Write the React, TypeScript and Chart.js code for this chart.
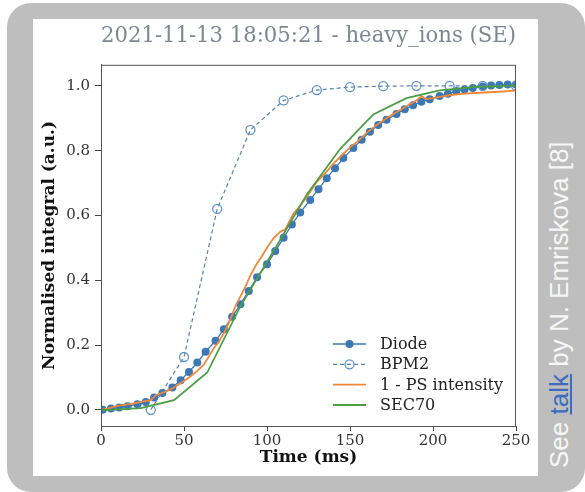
import { useEffect, useRef } from 'react';
import { Chart, registerables } from 'chart.js';

Chart.register(...registerables);

const chartTitle = '2021-11-13 18:05:21 - heavy_ions (SE)';
const xTitle = 'Time (ms)';
const yTitle = 'Normalised integral (a.u.)';

const xTicks = [0, 50, 100, 150, 200, 250];
const yTicks = [0, 0.2, 0.4, 0.6, 0.8, 1.0];

const diodeTimes = [1, 6, 11, 16, 22, 27, 32, 37, 43, 48, 53, 58, 63, 69, 74, 79, 84, 89, 94, 100, 105, 110, 115, 120, 126, 131, 136, 141, 146, 152, 157, 162, 167, 172, 178, 183, 188, 193, 198, 204, 209, 214, 219, 224, 230, 235, 240, 245, 250];
const diodeValues = [0.0, 0.004, 0.007, 0.011, 0.017, 0.024, 0.038, 0.052, 0.069, 0.091, 0.117, 0.146, 0.179, 0.213, 0.249, 0.287, 0.326, 0.367, 0.409, 0.449, 0.49, 0.531, 0.572, 0.609, 0.648, 0.681, 0.715, 0.746, 0.777, 0.808, 0.834, 0.858, 0.879, 0.895, 0.913, 0.928, 0.94, 0.951, 0.959, 0.969, 0.976, 0.984, 0.989, 0.993, 0.998, 1.001, 1.003, 1.004, 1.004];

const bpmTimes = [30, 50, 70, 90, 110, 130, 150, 170, 190, 210, 230, 250];
const bpmValues = [0.0, 0.163, 0.62, 0.864, 0.955, 0.987, 0.996, 0.999, 1.0, 1.0, 1.0, 1.0];

const psTimes = [0, 5, 10, 15, 20, 25, 30, 33, 37, 42, 47, 53, 58, 62, 65, 68, 71, 74, 78, 81, 84, 87, 90, 94, 97, 100, 104, 108, 111, 116, 120, 124, 130, 135, 140, 145, 150, 155, 160, 165, 170, 175, 180, 185, 190, 193, 196, 200, 205, 210, 217, 225, 237, 250];
const psValues = [0.0, 0.005, 0.012, 0.016, 0.02, 0.025, 0.03, 0.045, 0.052, 0.063, 0.079, 0.1, 0.12, 0.14, 0.165, 0.19, 0.21, 0.236, 0.28, 0.32, 0.35, 0.38, 0.415, 0.452, 0.475, 0.5, 0.53, 0.55, 0.557, 0.606, 0.63, 0.658, 0.704, 0.73, 0.76, 0.785, 0.81, 0.83, 0.855, 0.875, 0.893, 0.91, 0.925, 0.94, 0.955, 0.968, 0.959, 0.962, 0.967, 0.971, 0.975, 0.978, 0.981, 0.985];

const secTimes = [-16, 4, 24, 44, 64, 84, 104, 124, 144, 164, 184, 204, 224, 244, 264];
const secValues = [0.0, 0.0, 0.005, 0.03, 0.115, 0.32, 0.49, 0.665, 0.805, 0.912, 0.962, 0.986, 0.996, 1.0, 1.002];

const toPoints = (xs: number[], ys: number[]) => xs.map((x, i) => ({ x, y: ys[i] }));

const SERIF = "'DejaVu Serif', serif";

const framePlugin = {
  id: 'frameAndLegend',
  afterDatasetsDraw(chart: any) {
    const { ctx, chartArea: a } = chart;
    ctx.save();
    ctx.strokeStyle = '#555';
    ctx.lineWidth = 1;
    ctx.setLineDash([]);
    ctx.strokeRect(a.left + 0.5, a.top + 0.5, a.right - a.left - 1, a.bottom - a.top);
    const rows = [-82, -61.7, -41.4, -21];
    chart.data.datasets.forEach((ds: any, i: number) => {
      const y = a.bottom + rows[i];
      const x0 = a.right - 183;
      const x1 = a.right - 150;
      ctx.strokeStyle = ds.borderColor;
      ctx.lineWidth = ds.borderWidth;
      ctx.setLineDash(ds.borderDash || []);
      ctx.beginPath();
      ctx.moveTo(x0, y);
      ctx.lineTo(x1, y);
      ctx.stroke();
      ctx.setLineDash([]);
      if (ds.pointRadius > 0) {
        ctx.beginPath();
        ctx.arc((x0 + x1) / 2, y, ds.pointRadius, 0, Math.PI * 2);
        if (ds.pointBorderWidth > 0) {
          ctx.lineWidth = ds.pointBorderWidth;
          ctx.strokeStyle = ds.pointBorderColor;
          ctx.stroke();
        } else {
          ctx.fillStyle = ds.pointBackgroundColor;
          ctx.fill();
        }
      }
      ctx.fillStyle = '#222';
      ctx.font = `16px ${SERIF}`;
      ctx.textBaseline = 'middle';
      ctx.textAlign = 'left';
      ctx.fillText(ds.label, a.right - 136, y + 1);
    });
    ctx.restore();
  },
};

export default function App() {
  const ref = useRef<HTMLCanvasElement>(null);

  useEffect(() => {
    if (!ref.current) return;
    const tickFont = { family: SERIF, size: 15 };
    const titleFont = { family: SERIF, size: 17, weight: 'bold' as const };
    const chart = new Chart(ref.current, {
      type: 'line',
      data: {
        datasets: [
          {
            label: 'Diode',
            data: toPoints(diodeTimes, diodeValues),
            borderColor: '#3b78b5',
            borderWidth: 1.3,
            pointRadius: 4,
            pointBackgroundColor: '#3b78b5',
            pointBorderColor: '#3b78b5',
            pointBorderWidth: 0,
            order: 4,
          },
          {
            label: 'BPM2',
            data: toPoints(bpmTimes, bpmValues),
            borderColor: '#5a80aa',
            borderWidth: 1.2,
            borderDash: [4, 3],
            pointRadius: 4.5,
            pointBackgroundColor: 'rgba(0,0,0,0)',
            pointBorderColor: '#5d92c9',
            pointBorderWidth: 1.3,
            order: 3,
          },
          {
            label: '1 - PS intensity',
            data: toPoints(psTimes, psValues),
            borderColor: '#ef8838',
            borderWidth: 1.8,
            pointRadius: 0,
            pointBorderWidth: 0,
            order: 2,
          },
          {
            label: 'SEC70',
            data: toPoints(secTimes, secValues),
            borderColor: '#4c9e44',
            borderWidth: 1.8,
            pointRadius: 0,
            pointBorderWidth: 0,
            order: 1,
          },
        ],
      },
      options: {
        animation: false,
        responsive: false,
        devicePixelRatio: 1,
        events: [],
        layout: { padding: { left: 0, right: 22, top: 0, bottom: 0 } },
        plugins: {
          legend: { display: false },
          tooltip: { enabled: false },
          title: {
            display: true,
            text: chartTitle,
            fullSize: false,
            color: '#7f8794',
            font: { family: SERIF, size: 21.5, weight: 'normal' },
            padding: { top: 5, bottom: 15 },
          },
        },
        scales: {
          x: {
            type: 'linear',
            min: 0,
            max: 250,
            afterBuildTicks: (s: any) => {
              s.ticks = xTicks.map((v) => ({ value: v }));
            },
            afterFit: (s: any) => {
              s.height = 50;
            },
            ticks: {
              font: tickFont,
              color: '#333',
              padding: 1,
              maxRotation: 0,
              autoSkip: false,
              callback: (v: any) => String(v),
            },
            grid: { display: true, drawOnChartArea: false, drawTicks: true, tickLength: 5, color: '#444' },
            border: { display: true, color: '#555', width: 1 },
            title: { display: true, text: xTitle, color: '#111', font: titleFont, padding: { top: 0, bottom: 8 } },
          },
          y: {
            type: 'linear',
            min: -0.05,
            max: 1.065,
            afterBuildTicks: (s: any) => {
              s.ticks = yTicks.map((v) => ({ value: v }));
            },
            afterFit: (s: any) => {
              s.width = 68;
            },
            ticks: {
              font: tickFont,
              color: '#333',
              padding: 5,
              autoSkip: false,
              callback: (v: any) => Number(v).toFixed(1),
            },
            grid: { display: true, drawOnChartArea: false, drawTicks: true, tickLength: 6, color: '#444' },
            border: { display: true, color: '#555', width: 1 },
            title: { display: true, text: yTitle, color: '#111', font: titleFont, padding: { top: 6, bottom: 0 } },
          },
        },
      },
      plugins: [framePlugin],
    });
    return () => chart.destroy();
  }, []);

  return (
    <div>
      <div
        style={{
          position: 'absolute',
          left: 7,
          top: 3,
          width: 578,
          height: 489,
          background: '#bebebe',
          borderRadius: 24,
        }}
      />
      <div style={{ position: 'absolute', left: 33, top: 19, width: 505, height: 457, background: '#ffffff' }}>
        <canvas ref={ref} width={505} height={457} style={{ display: 'block' }} />
      </div>
      <div
        style={{
          position: 'absolute',
          left: 546,
          top: 468,
          transform: 'rotate(-90deg)',
          transformOrigin: '0 0',
          whiteSpace: 'nowrap',
          fontFamily: "'Liberation Sans', Arial, sans-serif",
          fontSize: 26,
          lineHeight: 1,
          color: '#f7f7f7',
        }}
      >
        See{' '}
        <a href="#" style={{ color: '#3a6cc0', textDecoration: 'underline' }}>
          talk
        </a>{' '}
        by N. Emriskova [8]
      </div>
    </div>
  );
}
